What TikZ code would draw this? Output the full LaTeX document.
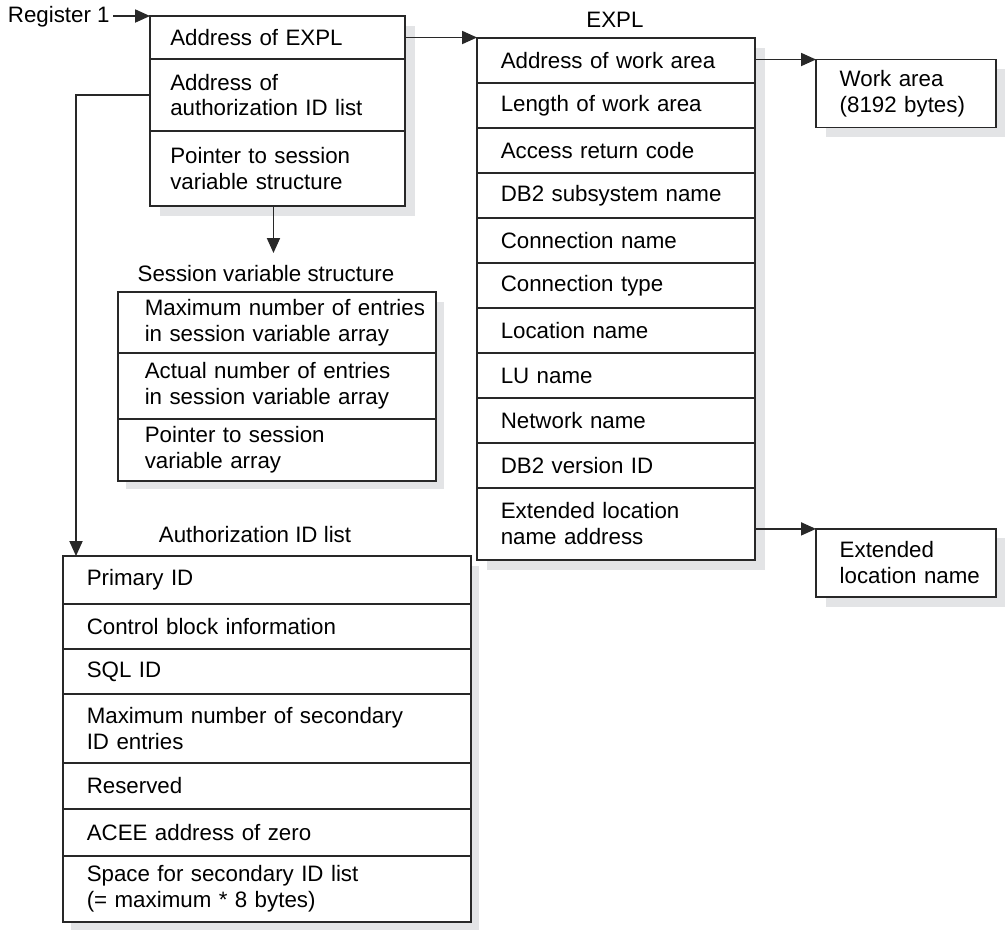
\documentclass[tikz,border=0pt]{standalone}
\usepackage{fontspec}
\setmainfont{Liberation Sans}
\usetikzlibrary{arrows.meta, calc, backgrounds}
\definecolor{boxline}{RGB}{40,40,40}
\definecolor{shadowgray}{RGB}{227,228,230}
\tikzset{
  cell/.style = {draw=boxline, fill=white, line width=0.7pt, outer sep=0pt,
    anchor=north west, inner xsep=3pt, inner ysep=0pt, align=left,
    execute at begin node={\leftskip=0.37cm\relax}},
  regcell/.style = {cell, text width=5.1cm-6pt,
    execute at begin node={\leftskip=0.3cm\relax}},
  explcell/.style = {cell, text width=5.56cm-6pt},
  sescell/.style = {cell, text width=6.36cm-6pt,
    execute at begin node={\leftskip=0.43cm\relax}},
  authcell/.style = {cell, text width=8.16cm-6pt},
  farcell/.style = {cell, text width=3.6cm-6pt},
  blocktitle/.style = {inner sep=0pt},
  ptr/.style = {draw=boxline, line width=0.7pt,
    -{Triangle[length=8.5pt,width=7.5pt]}}
}

\begin{document}
\begin{tikzpicture}[x=0.02cm, y=-0.02cm, font=\fontsize{12.7}{14.7}\selectfont]
  \useasboundingbox (0,0) rectangle (1005,931);

  % register 1 points here
  \node[anchor=east, inner sep=0pt] (reg) at (110,17) {Register 1};
  \node[regcell, minimum height=0.86cm] (r1) at (150,16) {Address of EXPL};
  \node[regcell, minimum height=1.44cm] (r2) at (r1.south west) {Address of\\authorization ID list};
  \node[regcell, minimum height=1.5cm] (r3) at (r2.south west) {Pointer to session\\variable structure};

  % EXPL
  \node[blocktitle] (expltitle) at (615,20) {EXPL};
  \node[explcell, minimum height=0.9cm] (a1) at (477,38) {Address of work area};
  \node[explcell, minimum height=0.9cm] (a2) at (a1.south west) {Length of work area};
  \node[explcell, minimum height=0.9cm] (a3) at (a2.south west) {Access return code};
  \node[explcell, minimum height=0.9cm] (a4) at (a3.south west) {DB2 subsystem name};
  \node[explcell, minimum height=0.9cm] (a5) at (a4.south west) {Connection name};
  \node[explcell, minimum height=0.9cm] (a6) at (a5.south west) {Connection type};
  \node[explcell, minimum height=0.9cm] (a7) at (a6.south west) {Location name};
  \node[explcell, minimum height=0.9cm] (a8) at (a7.south west) {LU name};
  \node[explcell, minimum height=0.9cm] (a9) at (a8.south west) {Network name};
  \node[explcell, minimum height=0.9cm] (a10) at (a9.south west) {DB2 version ID};
  \node[explcell, minimum height=1.44cm] (a11) at (a10.south west) {Extended location\\name address};

  \node[farcell, minimum height=1.36cm] (work) at ($(a1.east)+(61,-1)$) {Work area\\(8192 bytes)};
  \node[farcell, minimum height=1.36cm] (extloc) at ($(a11.east)+(61,5)$) {Extended\\location name};

  % session variables
  \node[blocktitle] (sestitle) at (266,274) {Session variable structure};
  \node[sescell, minimum height=1.22cm] (s1) at (118,292) {Maximum number of entries\\in session variable array};
  \node[sescell, minimum height=1.32cm] (s2) at (s1.south west) {Actual number of entries\\in session variable array};
  \node[sescell, minimum height=1.24cm] (s3) at (s2.south west) {Pointer to session\\variable array};

  % authorization IDs
  \node[blocktitle] (authtitle) at (255,535) {Authorization ID list};
  \node[authcell, minimum height=0.96cm] (b1) at (63,556) {Primary ID};
  \node[authcell, minimum height=0.9cm] (b2) at (b1.south west) {Control block information};
  \node[authcell, minimum height=0.9cm] (b3) at (b2.south west) {SQL ID};
  \node[authcell, minimum height=1.38cm] (b4) at (b3.south west) {Maximum number of secondary\\ID entries};
  \node[authcell, minimum height=0.92cm] (b5) at (b4.south west) {Reserved};
  \node[authcell, minimum height=0.94cm] (b6) at (b5.south west) {ACEE address of zero};
  \node[authcell, minimum height=1.32cm] (b7) at (b6.south west) {Space for secondary ID list\\(= maximum * 8 bytes)};

  \coordinate (sesptr) at ($(r3.south)+(-4,47)$);
  \coordinate (authptr) at ($(b1.north west)+(13,0)$);

  \draw[ptr] ($(reg.east |- r1.north west)+(3,0)$) -- (r1.north west);
  \draw[ptr] (r1.east) -- (r1.east -| a1.west);
  \draw[ptr] (a1.east |- work.north west) -- (work.north west);
  \draw[ptr] (a11.east |- extloc.north west) -- (extloc.north west);
  \draw[ptr] (r3.south -| sesptr) -- (sesptr);
  \draw[ptr] (r2.west) -| (authptr);

  \begin{scope}[on background layer]
    \fill[shadowgray] ($(r1.north west)+(10,10)$) rectangle ($(r3.south east)+(10,10)$);
    \fill[shadowgray] ($(a1.north west)+(10,10)$) rectangle ($(a11.south east)+(10,10)$);
    \fill[shadowgray] ($(work.north west)+(10,9)$) rectangle ($(work.south east)+(9,10)$);
    \fill[shadowgray] ($(extloc.north west)+(10,9)$) rectangle ($(extloc.south east)+(9,10)$);
    \fill[shadowgray] ($(s1.north west)+(8,10)$) rectangle ($(s3.south east)+(8,8)$);
    \fill[shadowgray] ($(b1.north west)+(8,10)$) rectangle ($(b7.south east)+(8,8)$);
  \end{scope}
\end{tikzpicture}
\end{document}
